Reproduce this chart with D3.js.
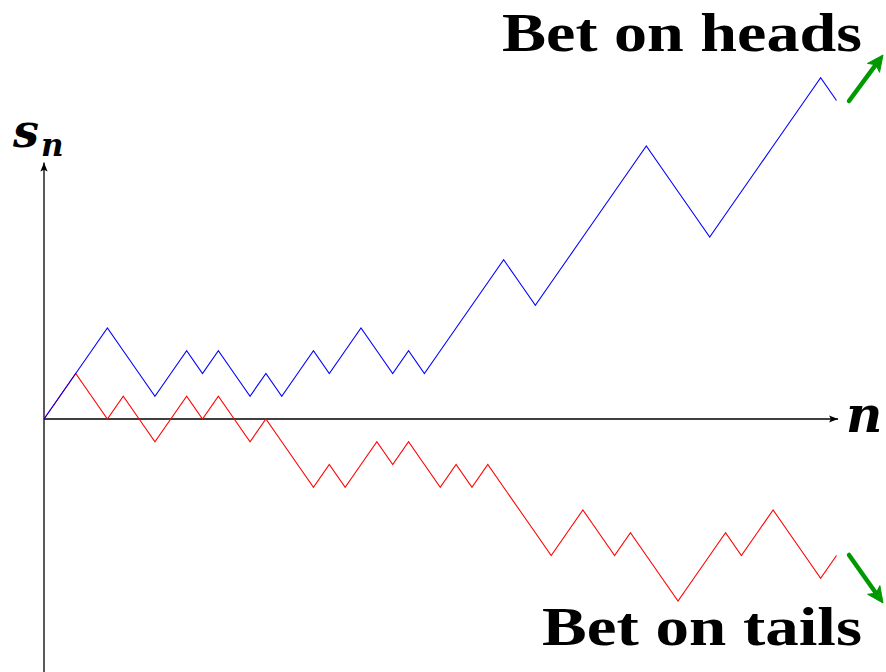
<!DOCTYPE html>
<html>
<head>
<meta charset="utf-8">
<script src="https://cdn.jsdelivr.net/npm/d3@7"></script>
<style>
  html, body { margin: 0; padding: 0; background: #fff; }
  svg { display: block; }
</style>
</head>
<body>
<svg id="chart"></svg>
<script>
// walk values s_n for n = 0..50
const heads = [0, 1, 2, 3, 4, 3, 2, 1, 2, 3, 2, 3, 2, 1, 2, 1, 2, 3, 2, 3,
  4, 3, 2, 3, 2, 3, 4, 5, 6, 7, 6, 5, 6, 7, 8, 9, 10, 11, 12, 11,
  10, 9, 8, 9, 10, 11, 12, 13, 14, 15, 14];
const tails = [0, 1, 2, 1, 0, 1, 0, -1, 0, 1, 0, 1, 0, -1, 0, -1, -2, -3, -2, -3,
  -2, -1, -2, -1, -2, -3, -2, -3, -2, -3, -4, -5, -6, -5, -4, -5, -6, -5, -6, -7,
  -8, -7, -6, -5, -6, -5, -4, -5, -6, -7, -6];
const labels = ['Bet on heads', 'Bet on tails'];

const width = 886, height = 672;

const x = d3.scaleLinear().domain([0, 50]).range([44, 836.5]);
const y = d3.scaleLinear().domain([-8, 15]).range([601, 77.75]);

const svg = d3.select('#chart')
  .attr('width', width)
  .attr('height', height);

const defs = svg.append('defs');
defs.append('marker')
  .attr('id', 'ax-head')
  .attr('viewBox', '0 0 10 10')
  .attr('refX', 10).attr('refY', 5)
  .attr('markerWidth', 9).attr('markerHeight', 9)
  .attr('markerUnits', 'userSpaceOnUse')
  .attr('orient', 'auto')
  .append('path')
  .attr('d', 'M0,1 L10,5 L0,9 L2,5 Z')
  .attr('fill', '#000');

// axes
svg.append('line')
  .attr('x1', x(0)).attr('y1', height)
  .attr('x2', x(0)).attr('y2', y(11.27))
  .attr('stroke', '#000').attr('stroke-width', 1.3)
  .attr('marker-end', 'url(#ax-head)');
svg.append('line')
  .attr('x1', x(0)).attr('y1', y(0))
  .attr('x2', x(50.1)).attr('y2', y(0))
  .attr('stroke', '#000').attr('stroke-width', 1.3)
  .attr('marker-end', 'url(#ax-head)');

const line = d3.line()
  .x((d, i) => x(i))
  .y(d => y(d));

svg.append('path')
  .datum(tails)
  .attr('d', line)
  .attr('fill', 'none')
  .attr('stroke', '#ff0000')
  .attr('stroke-width', 1.1);
svg.append('path')
  .datum(heads)
  .attr('d', line)
  .attr('fill', 'none')
  .attr('stroke', '#0000ff')
  .attr('stroke-width', 1.1);

// green trend arrows, head drawn by hand so it stays chunky
function greenArrow(x1, y1, x2, y2) {
  const a = Math.atan2(y2 - y1, x2 - x1);
  const len = 16, half = 7.5, notch = 12;
  const pt = (d, o) => [x2 - d * Math.cos(a) - o * Math.sin(a),
                        y2 - d * Math.sin(a) + o * Math.cos(a)];
  svg.append('line')
    .attr('x1', x1).attr('y1', y1)
    .attr('x2', pt(notch, 0)[0]).attr('y2', pt(notch, 0)[1])
    .attr('stroke', '#009900').attr('stroke-width', 4.5)
    .attr('stroke-linecap', 'round');
  svg.append('path')
    .attr('d', 'M' + [[x2, y2], pt(len, half), pt(notch, 0), pt(len, -half)].join('L') + 'Z')
    .attr('fill', '#009900')
    .attr('stroke', '#009900').attr('stroke-width', 1)
    .attr('stroke-linejoin', 'round');
}
greenArrow(849, 101, 883, 55);
greenArrow(849, 555, 883, 603);

// labels
const serif = "'Liberation Serif', 'Times New Roman', serif";
const mathSerif = "'DejaVu Serif', serif";
svg.append('text')
  .attr('x', 502).attr('y', 51)
  .attr('textLength', 360).attr('lengthAdjust', 'spacingAndGlyphs')
  .attr('font-family', serif).attr('font-weight', 'bold')
  .attr('font-size', 55)
  .text(labels[0]);
svg.append('text')
  .attr('x', 542).attr('y', 645)
  .attr('textLength', 320).attr('lengthAdjust', 'spacingAndGlyphs')
  .attr('font-family', serif).attr('font-weight', 'bold')
  .attr('font-size', 55)
  .text(labels[1]);

const axisLabel = svg.append('text')
  .attr('x', 13).attr('y', 147)
  .attr('font-family', mathSerif).attr('font-weight', 'bold')
  .attr('font-style', 'italic').attr('font-size', 46);
axisLabel.append('tspan').text('s');
axisLabel.append('tspan').attr('dy', 9).attr('dx', 2).attr('font-size', 31).text('n');

svg.append('text')
  .attr('x', 846).attr('y', 432)
  .attr('font-family', mathSerif).attr('font-weight', 'bold')
  .attr('font-style', 'italic').attr('font-size', 50)
  .text('n');
</script>
</body>
</html>
